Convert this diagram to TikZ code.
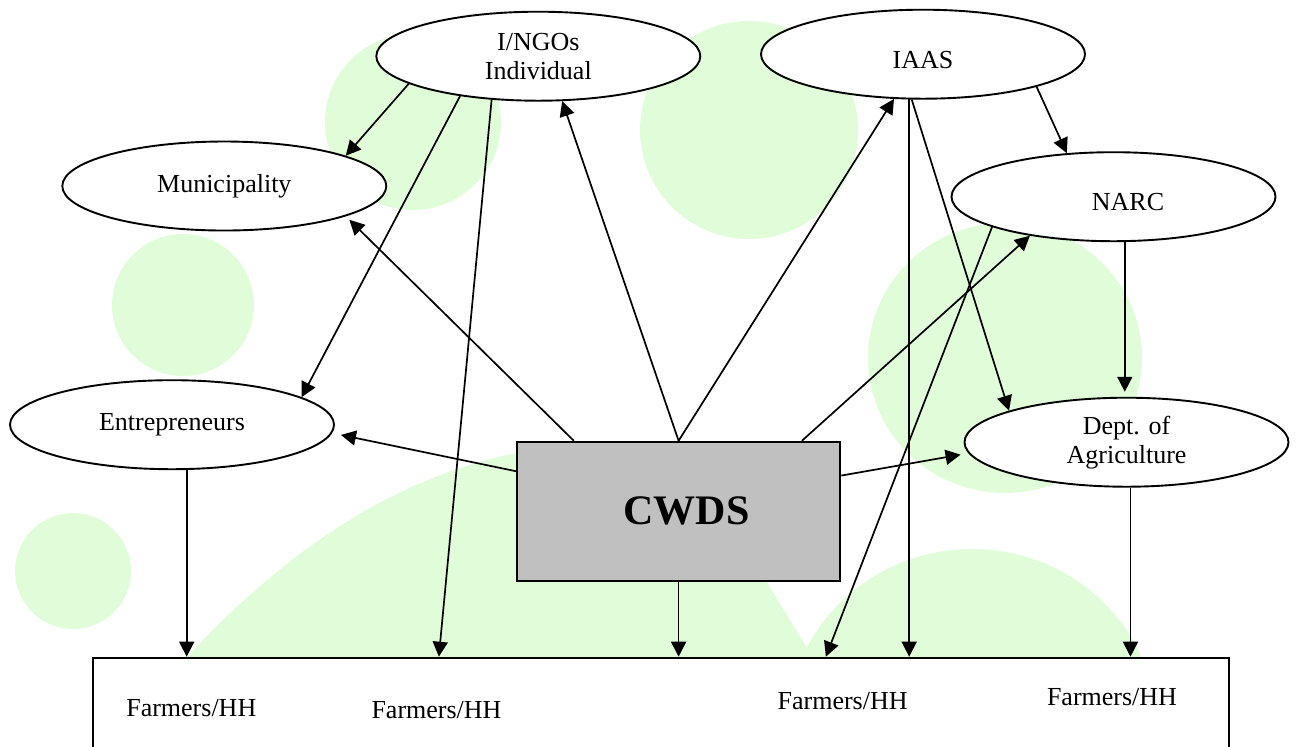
\documentclass[tikz,border=0pt]{standalone}
\usepackage{fontspec}
\setmainfont{Liberation Serif}
\usetikzlibrary{shapes.geometric,arrows.meta,calc}
\definecolor{bubblegreen}{RGB}{224,252,216}
\definecolor{hubgray}{RGB}{192,192,192}
\tikzset{
  actor/.style={ellipse,draw,line width=0.95pt,fill=white,minimum width=162pt,minimum height=44.5pt,inner sep=0pt,align=center,font=\fontsize{13}{14.5}\selectfont},
  hub/.style={rectangle,draw,line width=0.95pt,fill=hubgray,minimum width=161.75pt,minimum height=69.5pt,inner sep=0pt,font=\fontsize{21}{25}\selectfont\bfseries},
  base/.style={rectangle,draw,line width=0.95pt,fill=white,minimum width=568.2pt,minimum height=60pt,anchor=north},
  lbl/.style={inner sep=0pt,font=\fontsize{13}{14.5}\selectfont},
  arr/.style={-{Triangle[length=7.5pt,width=7.5pt]},line width=0.85pt},
}

\begin{document}
\begin{tikzpicture}[x=0.5pt,y=-0.5pt]
    \useasboundingbox (0,0) rectangle (1304,746);
    \clip (0,0) rectangle (1304,746);

    \fill[bubblegreen] (413,122) circle [radius=88];
    \fill[bubblegreen] (749,130) circle [radius=109];
    \fill[bubblegreen] (183,305) circle [radius=71];
    \fill[bubblegreen] (1005,358) circle [x radius=137,y radius=135];
    \fill[bubblegreen] (73,571) circle [radius=58];
    \fill[bubblegreen] (187,657) .. controls (290,545) and (430,445) .. (600,445)
        .. controls (700,445) and (750,560) .. (813,657) -- cycle;
    \fill[bubblegreen] (972,729) circle [x radius=185,y radius=180];

    \node[actor] (ngo) at (538.3,56.2) {I/NGOs\\Individual};
    \node[actor,text height=14.6pt,text depth=0pt] (iaas) at (923,54.2) {IAAS};
    \node[actor] (muni) at (224.3,186) {Municipality};
    \node[actor,text height=13.6pt,text depth=0pt] (narc) at (1113.5,196.7) {\hspace*{14.5pt}NARC};
    \node[actor] (entr) at (172,424.7) {Entrepreneurs};
    \node[actor] (dept) at (1126.5,442.2) {Dept. of\\Agriculture};
    \node[hub] (cwds) at (678.6,511.2) {\hspace*{8pt}CWDS};
    \node[base] (farm) at (660.8,656.7) {};

    \node[lbl] (fh1) at (191.3,708) {Farmers/HH};
    \node[lbl] (fh2) at (436.5,710) {Farmers/HH};
    \node[lbl] (fh3) at (842.6,701) {Farmers/HH};
    \node[lbl] (fh4) at (1112,696.7) {Farmers/HH};

    \draw[arr] (ngo.192) -- (muni.14);
    \draw[arr] (ngo.207) -- (entr.12);
    \draw[arr] (ngo.223) -- ($(farm.north west)!0.305!(farm.north east)$);
    \draw[arr] (iaas.344) -- (narc.137);
    \draw[arr] (iaas.253) -- (iaas.253 |- farm.north);
    \draw[arr] (iaas.256) -- (dept.165);
    \draw[arr] (narc.194) -- ($(farm.north west)!0.645!(farm.north east)$);
    \draw[arr,shorten >=2.5pt] (narc.284) -- (narc.284 |- dept.north);
    \draw[arr] (entr.288) -- (entr.288 |- farm.north);
    \draw[arr] (dept.275) -- (dept.275 |- farm.north);

    \draw[arr,shorten >=2.5pt] ($(cwds.north west)!0.178!(cwds.north east)$) -- (muni.346);
    \draw[arr] (cwds.north) -- (ngo.298);
    \draw[arr] (cwds.north) -- (iaas.237);
    \draw[arr] ($(cwds.north west)!0.879!(cwds.north east)$) -- (narc.205);
    \draw[arr,shorten >=4.5pt] ($(cwds.north west)!0.216!(cwds.south west)$) -- (entr.357);
    \draw[arr,shorten >=4pt] ($(cwds.north east)!0.247!(cwds.south east)$) -- (dept.184);
    \draw[arr] (cwds.south) -- (cwds.south |- farm.north);
\end{tikzpicture}
\end{document}
